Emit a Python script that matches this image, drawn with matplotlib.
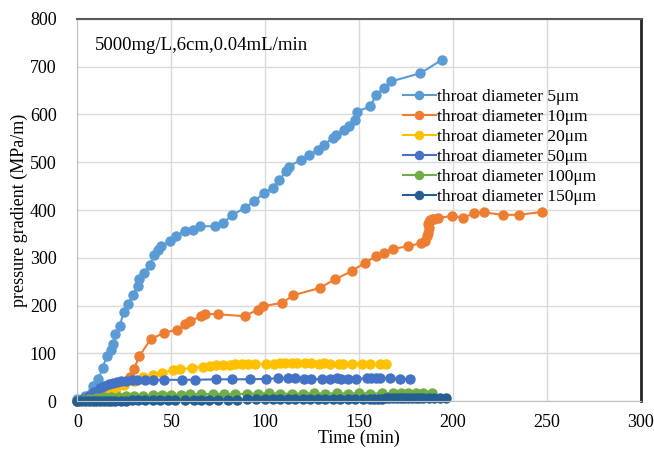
import matplotlib
matplotlib.use('Agg')
import matplotlib.pyplot as plt

plt.rcParams['font.family'] = ['Liberation Serif', 'DejaVu Serif']

# throat diameter 5um
t_5 = [0, 4, 8, 11, 13.5, 15.5, 18, 19, 20, 22.5, 24.5, 27, 29.5, 32, 33, 35.5, 38.5,
       41, 43, 44.5, 49, 52.5, 57, 61.5, 65, 73, 77.5, 82.5, 89, 94, 99.5, 104, 107.5,
       111, 112.5, 119, 123.5, 128, 131.5, 136, 137.5, 142, 144.5, 147.5, 149, 156,
       159, 163, 167, 182.5, 194]
p_5 = [5, 12, 32, 46, 70, 95, 108, 119, 140, 157, 186, 203, 223, 241, 255, 269, 286,
       307, 317, 324, 335, 345, 356, 359, 366, 366, 373, 390, 404, 418, 436, 446, 463,
       481, 491, 505, 516, 526, 537, 551, 557, 568, 575, 589, 606, 617, 641, 655, 669,
       686, 714]

# throat diameter 10um
t_10 = [0, 5, 10, 15, 20, 25, 28, 30, 33, 39, 46, 53, 57, 60, 66, 68, 75, 89, 96, 99,
        109, 115, 129, 137, 146, 153, 159, 163, 168, 176, 183, 185, 186, 186.5, 187,
        186.5, 187, 187.5, 188.5, 190, 192, 199.5, 205.5, 211, 216.5, 226.5, 235, 247.5]
p_10 = [0, 3, 8, 15, 24, 36, 50, 67, 95, 130, 143, 150, 161, 168, 178, 183, 182, 178,
        192, 199, 206, 222, 237, 255, 272, 290, 303, 310, 319, 324, 331, 335, 345, 352,
        362, 370, 376, 380, 381, 382, 383, 388, 384, 393, 395, 390, 390, 396]

# throat diameter 20um
t_20 = [0, 5, 10, 15, 20, 25, 30, 35, 40, 45, 51, 54.5, 61, 67, 70.5, 74, 77.5, 81,
        84, 87.5, 91, 94.5, 100.5, 104.5, 108, 110.5, 114, 117, 121, 124.5, 128.5, 131,
        134.5, 139, 141.5, 146, 151.5, 156, 161, 164]
p_20 = [0, 5, 12, 20, 28, 35, 42, 50, 55, 60, 65, 67, 70, 72, 73, 75, 75, 76, 77, 77,
        78, 78, 79, 79, 80, 80, 80, 80, 80, 80, 79, 80, 79, 79, 79, 79, 79, 78, 78, 77]

# throat diameter 50um
t_50 = [0, 3, 6, 9, 12, 14, 17, 19, 21, 23, 26, 29, 31.5, 36, 40, 46, 55.5, 62.5, 74,
        82, 92, 100.5, 107, 112, 116, 120.5, 124.5, 130, 134.5, 138, 140.5, 144, 148.5,
        154, 156.5, 159, 161, 166.5, 171.5, 177]
p_50 = [0, 5, 12, 20, 27, 32, 36, 39, 41, 42, 43, 44, 44, 44, 45, 45, 45, 45, 46, 46,
        46, 47, 48, 48, 49, 47, 46, 47, 47, 48, 46, 47, 47, 48, 48, 49, 48, 48, 47, 47]

# throat diameter 100um
t_100 = [0, 3, 6, 10, 14, 18, 22, 26, 30, 35, 40, 45, 50, 55, 60, 66, 72, 78, 84, 90,
         96, 102, 108, 114, 120, 126, 132, 138, 144, 150, 156, 162, 168, 172, 176, 180,
         184, 189]
p_100 = [0, 2, 4, 6, 8, 9, 10, 11, 12, 12, 13, 13, 14, 14, 15, 15, 15, 16, 15, 16, 16,
         17, 16, 16, 16, 17, 16, 17, 16, 17, 16, 17, 17, 17, 17, 18, 18, 17]

# throat diameter 150um
t_150 = [0, 2, 4, 6, 8, 10, 12, 14, 16, 18, 20, 23, 26, 29, 32, 36, 40, 44, 48, 52, 57,
         62, 66, 70, 75, 80, 85, 90, 95, 100, 104, 108, 112, 116, 120, 124, 128, 132,
         136, 140, 144, 148, 152, 156, 158, 160, 162, 164, 166, 168, 170, 172, 174, 176,
         178, 180, 182, 184, 187, 190, 193, 196]
p_150 = [0, 0, 0, 0, 1, 1, 1, 1, 1, 1, 1, 1, 1, 2, 2, 2, 2, 2, 2, 3, 3, 3, 3, 3, 3, 3,
         3, 4, 4, 4, 4, 4, 4, 4, 4, 4, 5, 5, 5, 5, 5, 5, 5, 5, 5, 5, 5, 6, 6, 6, 6, 6, 6,
         6, 6, 6, 6, 6, 6, 6, 6, 6]

series = [
    (t_5, p_5, 'throat diameter 5\u03bcm', '#5B9BD5'),
    (t_10, p_10, 'throat diameter 10\u03bcm', '#ED7D31'),
    (t_20, p_20, 'throat diameter 20\u03bcm', '#FFC000'),
    (t_50, p_50, 'throat diameter 50\u03bcm', '#4472C4'),
    (t_100, p_100, 'throat diameter 100\u03bcm', '#70AD47'),
    (t_150, p_150, 'throat diameter 150\u03bcm', '#255E91'),
]

fig = plt.figure(figsize=(6.54, 4.49), dpi=100)
ax = fig.add_axes([0.1185, 0.1062, 0.8615, 0.852])

for t, p, label, color in series:
    ax.plot(t, p, color=color, lw=1.5, marker='o', markersize=6.5,
            label=label, clip_on=False)

ax.set_xlim(0, 300)
ax.set_ylim(0, 800)
ax.set_xticks(range(0, 301, 50))
ax.set_yticks(range(0, 801, 100))
ax.grid(True, color='#D9D9D9', lw=1)
ax.set_axisbelow(True)

for side in ('left', 'bottom'):
    ax.spines[side].set_color('#BFBFBF')
ax.spines['top'].set_color('#595959')
ax.spines['right'].set_color('#262626')
ax.spines['top'].set_linewidth(1.5)
ax.spines['right'].set_linewidth(2)
ax.tick_params(length=0, labelsize=13, colors='#000000')
ax.tick_params(axis='y', pad=15)
ax.tick_params(axis='x', pad=9)

ax.set_xlabel('Time (min)', fontsize=13, labelpad=-1)
ax.set_ylabel('pressure gradient (MPa/m)', fontsize=13)
ax.yaxis.set_label_coords(-0.088, 0.5)

ax.text(95 / 654, 1 - 45 / 449, '5000mg/L,6cm,0.04mL/min', transform=fig.transFigure,
        fontsize=13.5, va='center', ha='left')

ax.legend(loc='upper left', bbox_to_anchor=(394 / 654, 1 - 80 / 449),
          bbox_transform=fig.transFigure, frameon=False, fontsize=12.5,
          borderpad=0, handlelength=1.9, handletextpad=0.05, labelspacing=0.22,
          markerscale=0.9)

fig.savefig('out.png', dpi=100)
